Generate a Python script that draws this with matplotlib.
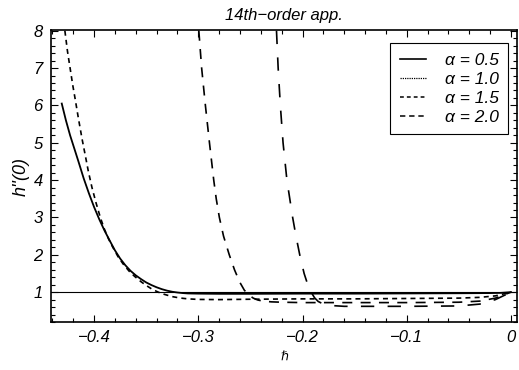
import matplotlib
matplotlib.use("Agg")
import matplotlib.pyplot as plt
from matplotlib.lines import Line2D
from matplotlib.ticker import MultipleLocator

plt.rcParams['font.family'] = ['Liberation Sans', 'DejaVu Sans']
plt.rcParams['font.style'] = 'italic'

# h''(0) against hbar for the 14th-order approximation
h_05 = [-0.431, -0.427, -0.423, -0.419, -0.415, -0.410, -0.405, -0.400, -0.395,
        -0.390, -0.385, -0.380, -0.375, -0.370, -0.365, -0.360, -0.355, -0.350,
        -0.345, -0.340, -0.335, -0.330, -0.325, -0.320, -0.315, -0.310, -0.300,
        -0.280, -0.250, -0.200, -0.150, -0.100, -0.050, -0.020, -0.010, 0.0]
y_05 = [6.05, 5.6, 5.2, 4.85, 4.5, 4.05, 3.65, 3.28, 2.95, 2.65, 2.38, 2.12,
        1.9, 1.72, 1.57, 1.45, 1.35, 1.26, 1.19, 1.13, 1.08, 1.04, 1.01, 0.99,
        0.975, 0.965, 0.96, 0.955, 0.955, 0.96, 0.96, 0.965, 0.97, 0.975, 0.98, 1.0]

h_10 = [-0.428, -0.4255, -0.423, -0.4205, -0.418, -0.415, -0.4115, -0.408,
        -0.4056, -0.402, -0.398, -0.394, -0.390, -0.386, -0.382, -0.377, -0.372,
        -0.366, -0.361, -0.355, -0.350, -0.345, -0.340, -0.335, -0.330, -0.325,
        -0.320, -0.315, -0.310, -0.300, -0.280, -0.250, -0.200, -0.150, -0.100,
        -0.050, -0.030, -0.015, 0.0]
y_10 = [8.0, 7.45, 7.0, 6.55, 6.15, 5.65, 5.1, 4.6, 4.25, 3.8, 3.38, 3.0, 2.68,
        2.42, 2.2, 1.95, 1.75, 1.55, 1.42, 1.28, 1.18, 1.09, 1.02, 0.96, 0.92,
        0.88, 0.855, 0.835, 0.82, 0.805, 0.80, 0.81, 0.82, 0.82, 0.83, 0.84,
        0.86, 0.9, 1.0]

h_15 = [-0.2995, -0.2968, -0.2932, -0.2893, -0.2852, -0.2828, -0.2798, -0.2758,
        -0.2703, -0.2653, -0.2603, -0.2558, -0.2513, -0.2473, -0.243, -0.238,
        -0.230, -0.220, -0.200, -0.150, -0.100, -0.050, -0.030, -0.015, 0.0]
y_15 = [8.0, 7.0, 6.0, 5.0, 4.0, 3.5, 3.0, 2.5, 2.0, 1.6, 1.27, 1.05, 0.92,
        0.84, 0.79, 0.76, 0.74, 0.73, 0.72, 0.72, 0.72, 0.73, 0.76, 0.84, 1.0]

h_20 = [-0.2250, -0.2234, -0.2213, -0.2187, -0.2150, -0.2095, -0.2063, -0.2027,
        -0.1985, -0.1950, -0.1918, -0.1885, -0.1850, -0.180, -0.172, -0.160,
        -0.100, -0.050, -0.030, -0.015, 0.0]
y_20 = [8.0, 7.0, 6.0, 5.0, 4.0, 3.0, 2.5, 2.0, 1.5, 1.2, 1.0, 0.85, 0.75,
        0.68, 0.64, 0.62, 0.62, 0.63, 0.68, 0.8, 1.0]

labels = ["α = 0.5", "α = 1.0", "α = 1.5", "α = 2.0"]

fig = plt.figure(figsize=(5.19, 3.70), dpi=100)
ax = fig.add_axes([0.0983, 0.1297, 0.898, 0.7892])

ax.axhline(1.0, color='black', lw=0.8)

ax.plot(h_05, y_05, color='black', lw=1.3)
ax.plot(h_10, y_10, color='black', lw=1.2, linestyle=(0, (3, 2.5)))
ax.plot(h_15, y_15, color='black', lw=1.2, linestyle=(0, (6, 5)))
ax.plot(h_20, y_20, color='black', lw=1.2, linestyle=(0, (8, 8)))

ax.set_xlim(-0.4413, 0.0058)
ax.set_ylim(0.2, 8.02)
ax.set_xticks([-0.4, -0.3, -0.2, -0.1, 0.0])
ax.set_xticklabels(["−0.4", "−0.3", "−0.2", "−0.1", "0"])
ax.set_yticks(range(1, 9))
ax.xaxis.set_minor_locator(MultipleLocator(0.02))
ax.yaxis.set_minor_locator(MultipleLocator(0.2))
ax.tick_params(which='both', direction='in', top=True, right=True, width=0.8)
ax.tick_params(which='major', length=5, labelsize=12, pad=6)
ax.tick_params(which='minor', length=3)
for s in ax.spines.values():
    s.set_linewidth(1.2)

ax.set_title("14th−order app.", fontsize=12, pad=7)
ax.set_ylabel("h''(0)", fontsize=13, labelpad=3)
ax.set_xlabel("ℏ", fontsize=9, family=['DejaVu Sans'], labelpad=3)

# legend keys use shorter dash patterns so they read well in a short sample
keys = [Line2D([], [], color='black', lw=1.2),
        Line2D([], [], color='black', lw=0.9, linestyle=(0, (1, 0.8))),
        Line2D([], [], color='black', lw=1.1, linestyle=(0, (2.5, 2))),
        Line2D([], [], color='black', lw=1.1, linestyle=(0, (3.5, 2.5)))]
leg = ax.legend(keys, labels, loc='upper right', bbox_to_anchor=(0.981, 0.955),
                borderaxespad=0, fontsize=12.5, fancybox=False, framealpha=1,
                edgecolor='black', handlelength=1.5, labelspacing=0.22,
                borderpad=0.55, handletextpad=1.1)
leg.get_frame().set_linewidth(0.8)

fig.savefig("out.png", dpi=100)
